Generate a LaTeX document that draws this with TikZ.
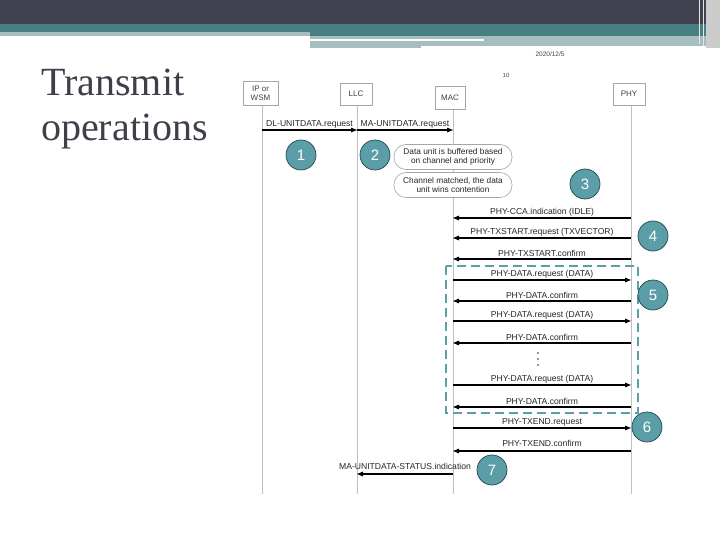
\documentclass[tikz,border=0pt]{standalone}
\usepackage{fontspec}
\setmainfont{Liberation Serif}
\newfontfamily\diagfont{Liberation Sans}
\usetikzlibrary{arrows.meta}
\definecolor{darkband}{HTML}{414250}
\definecolor{tealband}{HTML}{477F83}
\definecolor{lightband}{HTML}{A7BEC1}
\definecolor{titlegray}{HTML}{3F3F4A}
\definecolor{numfill}{HTML}{5C9EA7}
\definecolor{numline}{HTML}{23484D}
\definecolor{dashteal}{HTML}{5E9EA6}

\begin{document}
\begin{tikzpicture}[x=1pt,y=-1pt,
  lifebox/.style={draw=gray!70,fill=white,line width=0.6pt,inner sep=2pt,align=center,
    font=\diagfont\fontsize{8}{9}\selectfont,text=black!75},
  life/.style={draw=gray!50,line width=0.7pt},
  msg/.style={line width=1.1pt,-{Triangle[length=6pt,width=4.5pt]}},
  lbl/.style={above=0.5pt,inner sep=1pt,font=\diagfont\fontsize{8.6}{10}\selectfont,text=black!85},
  pill/.style={draw=gray!70,fill=white,line width=0.6pt,rounded corners=12pt,align=center,
    minimum width=118pt,minimum height=25pt,inner sep=1pt,
    font=\diagfont\fontsize{8.3}{9.3}\selectfont,text=black!85},
  num/.style={circle,draw=numline,fill=numfill,text=white,line width=0.7pt,
    minimum size=30pt,inner sep=0pt,font=\diagfont\fontsize{15}{15}\selectfont}]
  \useasboundingbox (0,0) rectangle (720,540);

  % header bands
  \fill[darkband] (0,0) rectangle (720,24);
  \fill[tealband] (0,24) rectangle (720,36);
  \fill[lightband] (0,32) rectangle (310,36);
  \fill[lightband] (310,36) rectangle (706,46);
  \fill[white] (310,39) rectangle (484,41);
  \fill[lightband] (310,46) rectangle (421,48.5);
  \fill[gray!40] (706,0) rectangle (720,48);
  \draw[white!80!gray,line width=1pt] (699,0) -- (699,44);
  \draw[white!80!gray,line width=0.6pt] (703,0) -- (703,46);
  \node[font=\diagfont\fontsize{6.5}{7}\selectfont,text=titlegray] (date) at (550,54) {2020/12/5};
  \node[font=\diagfont\fontsize{6}{7}\selectfont,text=titlegray] (page) at (506,75) {10};

  % title
  \node[anchor=base west,inner sep=0pt,font=\fontsize{40}{45}\selectfont,text=titlegray] (ttl1) at (41,96) {Transmit};
  \node[anchor=base west,inner sep=0pt,font=\fontsize{40}{45}\selectfont,text=titlegray] (ttl2) at (41,141) {operations};

  % lifelines
  \coordinate (bot) at (0,494);
  \coordinate (ipx) at (262,93);
  \coordinate (llcx) at (357,94);
  \coordinate (macx) at (453,98);
  \coordinate (phyx) at (631,94);
  \draw[life] (ipx) -- (ipx |- bot);
  \draw[life] (llcx) -- (llcx |- bot);
  \draw[life] (macx) -- (macx |- bot);
  \draw[life] (phyx) -- (phyx |- bot);
  \node[lifebox,minimum width=35pt,minimum height=24pt] (ip) at (260.5,93) {IP or\\WSM};
  \node[lifebox,minimum width=32pt,minimum height=22pt] (llc) at (356,94) {LLC};
  \node[lifebox,minimum width=30pt,minimum height=23pt] (mac) at (450,98) {MAC};
  \node[lifebox,minimum width=32pt,minimum height=22pt] (phy) at (629,94) {PHY};

  % MAC notes
  \node[pill] (buf) at (453,157) {Data unit is buffered based\\on channel and priority};
  \node[pill] (cont) at (453,185) {Channel matched, the data\\unit wins contention};

  % messages
  \draw[msg] (ipx |- 0,130) -- node[lbl] {DL-UNITDATA.request} (llcx |- 0,130);
  \draw[msg] (llcx |- 0,130) -- node[lbl] {MA-UNITDATA.request} (macx |- 0,130);
  \draw[msg] (phyx |- 0,218) -- node[lbl] {PHY-CCA.indication (IDLE)} (macx |- 0,218);
  \draw[msg] (phyx |- 0,238) -- node[lbl] {PHY-TXSTART.request (TXVECTOR)} (macx |- 0,238);
  \draw[msg] (phyx |- 0,259) -- node[lbl] {PHY-TXSTART.confirm} (macx |- 0,259);
  \draw[msg] (macx |- 0,280) -- node[lbl] {PHY-DATA.request (DATA)} (phyx |- 0,280);
  \draw[msg] (phyx |- 0,301) -- node[lbl] {PHY-DATA.confirm} (macx |- 0,301);
  \draw[msg] (macx |- 0,321) -- node[lbl] {PHY-DATA.request (DATA)} (phyx |- 0,321);
  \draw[msg] (phyx |- 0,343) -- node[lbl] {PHY-DATA.confirm} (macx |- 0,343);
  \foreach \y in {353,359,365}
    \fill[black!80] (538,\y) circle (0.8pt);
  \draw[msg] (macx |- 0,385) -- node[lbl] {PHY-DATA.request (DATA)} (phyx |- 0,385);
  \draw[msg] (phyx |- 0,407) -- node[lbl] {PHY-DATA.confirm} (macx |- 0,407);
  \draw[msg] (macx |- 0,428) -- node[lbl] {PHY-TXEND.request} (phyx |- 0,428);
  \draw[msg] (phyx |- 0,451) -- node[lbl,above=2pt] {PHY-TXEND.confirm} (macx |- 0,451);
  \draw[msg] (macx |- 0,474) -- node[lbl,above=2pt] {MA-UNITDATA-STATUS.indication} (llcx |- 0,474);

  % repeated data exchange
  \draw[dashteal,line width=2.6pt,dash pattern=on 9pt off 5pt] (446,266) rectangle (638,413);

  % steps
  \node[num] (n1) at (301,155) {1};
  \node[num] (n2) at (375,155) {2};
  \node[num] (n3) at (585,184) {3};
  \node[num] (n4) at (653,236) {4};
  \node[num] (n5) at (653,295) {5};
  \node[num] (n6) at (647,427) {6};
  \node[num] (n7) at (492,470) {7};
\end{tikzpicture}
\end{document}
